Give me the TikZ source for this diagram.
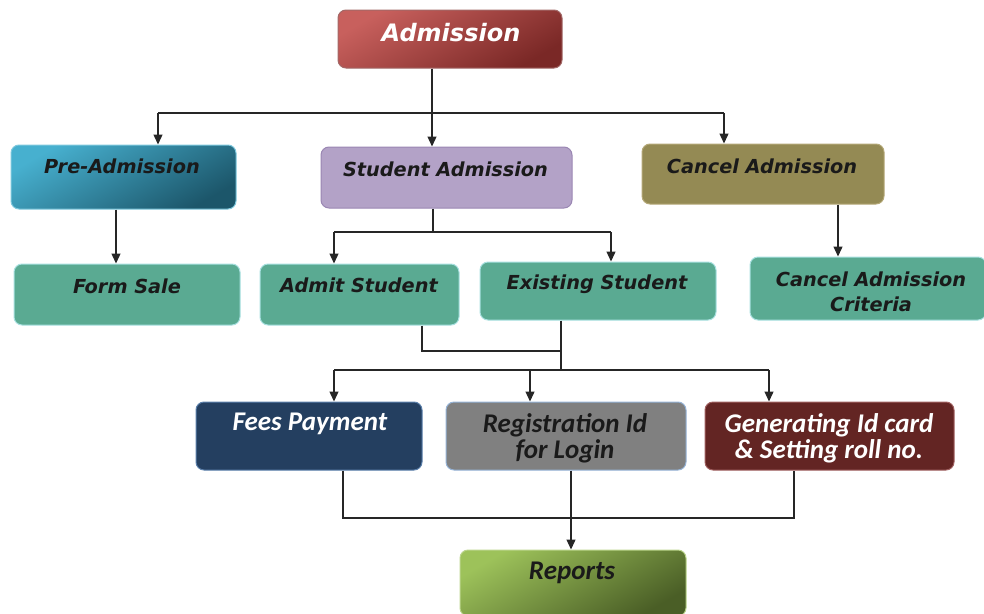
\documentclass[tikz,border=0pt]{standalone}
\usepackage{fontspec}
\setmainfont{DejaVu Sans}
\newfontfamily\carl{Carlito}
\usetikzlibrary{arrows.meta}
\definecolor{admA}{HTML}{C8605D}\definecolor{admB}{HTML}{7A2826}
\definecolor{preA}{HTML}{47B0CF}\definecolor{preB}{HTML}{1C566A}
\definecolor{stud}{HTML}{B3A2C7}\definecolor{studB}{HTML}{9A86B3}
\definecolor{canc}{HTML}{948A54}\definecolor{cancB}{HTML}{B4A878}
\definecolor{grn}{HTML}{5AAA92}\definecolor{grnB}{HTML}{A8E0E0}
\definecolor{fees}{HTML}{243F60}\definecolor{feesB}{HTML}{5A7FAA}
\definecolor{reg}{HTML}{808080}\definecolor{regB}{HTML}{95B3D7}
\definecolor{gen}{HTML}{632523}\definecolor{genB}{HTML}{A06060}
\definecolor{repA}{HTML}{9DC25A}\definecolor{repB}{HTML}{4A5E26}
\definecolor{txt}{HTML}{1A1A1A}
\tikzset{
  box/.style={rounded corners=8pt, inner sep=0pt, line width=1pt},
  vtxt/.style={font=\fontsize{19.3}{25}\selectfont\bfseries\itshape, text=txt, inner sep=0pt, align=center},
  ctxt/.style={font=\carl\fontsize{27}{26}\selectfont\bfseries\itshape, text=txt, inner sep=0pt, align=center},
  arr/.style={line width=1.3pt, draw=black!85, -{Triangle[length=10pt,width=9pt]}},
  ln/.style={line width=1.3pt, draw=black!85},
}
\begin{document}
\begin{tikzpicture}[x=1pt,y=-1pt]
\useasboundingbox (0,0) rectangle (984,613);
% boxes
\node[box, draw=admB!70, top color=admA, bottom color=admB, shading angle=30, minimum width=224pt, minimum height=58pt] (adm) at (450,39) {};
\node[box, draw=preA!70, top color=preA, bottom color=preB, shading angle=30, minimum width=225pt, minimum height=64pt] (pre) at (123.5,177) {};
\node[box, draw=studB, fill=stud, minimum width=251pt, minimum height=61pt] (sta) at (446.5,177.5) {};
\node[box, draw=cancB, fill=canc, minimum width=242pt, minimum height=60pt] (can) at (763,174) {};
\node[box, draw=grnB, fill=grn, minimum width=226pt, minimum height=61pt] (frm) at (127,294.5) {};
\node[box, draw=grnB, fill=grn, minimum width=199pt, minimum height=61pt] (ads) at (359.5,294.5) {};
\node[box, draw=grnB, fill=grn, minimum width=236pt, minimum height=58pt] (exs) at (598,291) {};
\node[box, draw=grnB, fill=grn, minimum width=236pt, minimum height=63pt] (cac) at (868,288.5) {};
\node[box, draw=feesB, fill=fees, minimum width=226pt, minimum height=68pt] (fee) at (309,436) {};
\node[box, draw=regB, fill=reg, minimum width=240pt, minimum height=68pt] (rid) at (566,436) {};
\node[box, draw=genB, fill=gen, minimum width=249pt, minimum height=68pt] (gic) at (829.5,436) {};
\node[box, draw=repA!70, top color=repA, bottom color=repB, shading angle=30, minimum width=226pt, minimum height=66pt] (rep) at (573,583) {};
% texts
\node[vtxt, text=white, font=\fontsize{24}{28}\selectfont\bfseries\itshape] (tadm) at (451,33) {Admission};
\node[vtxt] (tpre) at (122,166) {Pre-Admission};
\node[vtxt] (tsta) at (445.5,169) {Student Admission};
\node[vtxt] (tcan) at (762,166) {Cancel Admission};
\node[vtxt] (tfrm) at (127,286) {Form Sale};
\node[vtxt] (tads) at (359,285) {Admit Student};
\node[vtxt] (texs) at (597,284) {Existing Student};
\node[vtxt] (tcac) at (871,291.5) {Cancel Admission\\Criteria};
\node[ctxt, text=white] (tfee) at (310,424) {Fees Payment};
\node[ctxt] (trid) at (565,438.5) {Registration Id\\for Login};
\node[ctxt, text=white] (tgic) at (829,438.5) {Generating Id card\\\& Setting roll no.};
\node[ctxt] (trep) at (572,573) {Reports};
% junctions
\coordinate (j0) at (432,113);
\coordinate (jl) at (158,113);
\coordinate (jm) at (432,113);
\coordinate (jr) at (724,113);
\draw[ln] (adm.south -| j0) -- (j0);
\draw[ln] (jl) -- (jr);
\draw[arr] (jl) -- (jl |- pre.north);
\draw[arr] (jm) -- (jm |- sta.north);
\draw[arr] (jr) -- (jr |- can.north);
\coordinate (pf) at (116,0);
\draw[arr] (pre.south -| pf) -- (frm.north -| pf);
\coordinate (s0) at (433,232);
\coordinate (sl) at (334,232);
\coordinate (sr) at (611,232);
\draw[ln] (sta.south -| s0) -- (s0);
\draw[ln] (sl) -- (sr);
\draw[arr] (sl) -- (sl |- ads.north);
\draw[arr] (sr) -- (sr |- exs.north);
\coordinate (cc) at (838,0);
\draw[arr] (can.south -| cc) -- (cac.north -| cc);
\coordinate (m1) at (422,351);
\coordinate (m2) at (561,351);
\coordinate (m3) at (561,370);
\coordinate (ml) at (334,370);
\coordinate (mc) at (530,370);
\coordinate (mr) at (769,370);
\draw[ln] (ads.south -| m1) -- (m1) -- (m2);
\draw[ln] (exs.south -| m2) -- (m3);
\draw[ln] (ml) -- (mr);
\draw[arr] (ml) -- (ml |- fee.north);
\draw[arr] (mc) -- (mc |- rid.north);
\draw[arr] (mr) -- (mr |- gic.north);
\coordinate (b1) at (343,518);
\coordinate (b2) at (794,518);
\coordinate (b3) at (571,0);
\draw[ln] (fee.south -| b1) -- (b1) -- (b2) -- (gic.south -| b2);
\draw[arr] (rid.south -| b3) -- (rep.north -| b3);
\end{tikzpicture}
\end{document}
